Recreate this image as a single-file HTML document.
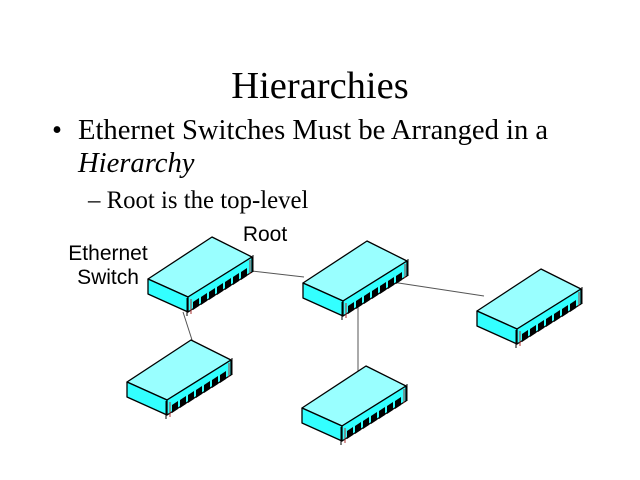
<!DOCTYPE html>
<html><head><meta charset="utf-8"><style>
html,body{margin:0;padding:0;background:#fff;}
svg{display:block}
</style></head><body>
<svg width="640" height="480" viewBox="0 0 640 480" xmlns="http://www.w3.org/2000/svg">
<defs>
<g id="sw" stroke="#000" stroke-width="1.3" stroke-linejoin="round">
  <polygon points="0,0 64,-42 104,-22 40,18" fill="#99ffff"/>
  <polygon points="0,0 40,18 40,33 0,15" fill="#33ffff"/>
  <polygon points="40,18 104,-22 104,-7 40,33" fill="#33ffff"/>
  <g fill="#000" stroke="none">
    <polygon points="45,23 51,19 51,27 45,31"/>
    <polygon points="53,18 59,14 59,22 53,26"/>
    <polygon points="61,13 67,9 67,17 61,21"/>
    <polygon points="69,8 75,4 75,12 69,16"/>
    <polygon points="77,3 83,-1 83,7 77,11"/>
    <polygon points="85,-2 91,-6 91,2 85,6"/>
    <polygon points="93,-7 99,-11 99,-3 93,1"/>
  </g>
  <line x1="43" y1="20" x2="43" y2="35" stroke="#a33" stroke-width="1"/>
  <line x1="102" y1="-19" x2="102" y2="-5" stroke="#a33" stroke-width="1"/>
  <line x1="39" y1="19" x2="39" y2="37" stroke="#000" stroke-width="1"/>
  <line x1="105" y1="-24" x2="105" y2="-7" stroke="#000" stroke-width="1"/>
</g>
</defs>
<text x="320" y="98" font-family="Liberation Serif, serif" font-size="38.5" text-anchor="middle">Hierarchies</text>
<text x="52" y="139" font-family="Liberation Serif, serif" font-size="28.6">•</text>
<text x="78" y="139" font-family="Liberation Serif, serif" font-size="28.6">Ethernet Switches Must be Arranged in a</text>
<text x="78" y="172" font-family="Liberation Serif, serif" font-size="28.6" font-style="italic">Hierarchy</text>
<text x="88" y="208" font-family="Liberation Serif, serif" font-size="24.8">– Root is the top-level</text>
<text x="108" y="260" font-family="Liberation Sans, sans-serif" font-size="21" text-anchor="middle">Ethernet</text>
<text x="108" y="284" font-family="Liberation Sans, sans-serif" font-size="21" text-anchor="middle">Switch</text>
<text x="265" y="241" font-family="Liberation Sans, sans-serif" font-size="21" text-anchor="middle">Root</text>
<g stroke="#555" stroke-width="1">
<line x1="252" y1="271" x2="304" y2="277"/>
<line x1="183" y1="312" x2="193" y2="343"/>
<line x1="392" y1="282" x2="484" y2="296"/>
<line x1="358" y1="304" x2="358" y2="375"/>
</g>
<use href="#sw" x="148" y="279"/>
<use href="#sw" x="303" y="283"/>
<use href="#sw" x="477" y="311"/>
<use href="#sw" x="127" y="382"/>
<use href="#sw" x="302" y="408"/>
</svg>
</body></html>
